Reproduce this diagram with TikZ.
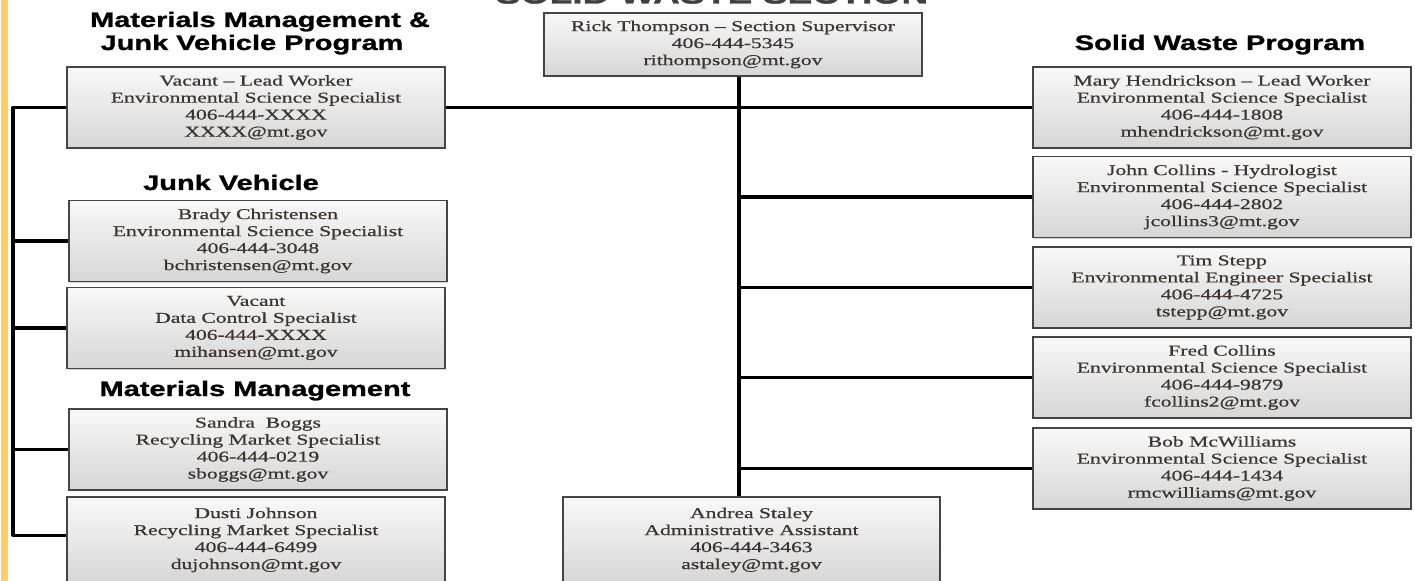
\documentclass[tikz,border=0pt]{standalone}
\usepackage{fontspec}
\setmainfont{Liberation Serif}
\newfontfamily\boxfont[FakeStretch=1.44,FakeBold=0.7]{Liberation Serif}
\newfontfamily\hdrfont[FakeStretch=1.38,FakeBold=1.2]{Liberation Sans}
\usetikzlibrary{shadows,calc}
\definecolor{orangebar}{HTML}{FFCC66}
\definecolor{boxtext}{HTML}{3A3530}
\definecolor{boxline}{HTML}{454545}
\begin{document}
\begin{tikzpicture}[x=0.75pt,y=-0.75pt,
  pbox/.style={draw=boxline, line width=1.2pt, top color=gray!5, bottom color=gray!32,
    minimum width=283.5pt, minimum height=60.75pt, inner sep=0pt, align=center,
    text=boxtext, font=\boxfont\fontsize{11.25pt}{12.75pt}\selectfont,
    drop shadow={shadow xshift=1pt, shadow yshift=-1pt, opacity=0.35}},
  hdr/.style={font=\hdrfont\bfseries\fontsize{15.75pt}{17pt}\selectfont, anchor=base, inner sep=0pt},
  ttl/.style={font=\hdrfont\bfseries\fontsize{20.25pt}{22pt}\selectfont, anchor=base, inner sep=0pt, text=black!75},
  conn/.style={line width=2.4pt, black}]
\useasboundingbox (0,0) rectangle (1415,581);
\clip (0,0) rectangle (1415,581);
\fill[white] (0,0) rectangle (1415,581);
\fill[orangebar] (1,0) rectangle (7.5,581);

% title (cut off at the top, as in the reference)
\node[ttl] (title) at (712,3.5) {SOLID WASTE SECTION};

% headings
\node[hdr] (hmm1) at (260,27) {Materials Management \&};
\node[hdr] (hmm2) at (252,50) {Junk Vehicle Program};
\node[hdr] (hsw) at (1220,50) {Solid Waste Program};
\node[hdr] (hjv) at (231,190) {Junk Vehicle};
\node[hdr] (hmat) at (255,396) {Materials Management};

% boxes
\node[pbox, minimum height=47.25pt] (rick) at (733,44.5) {Rick Thompson – Section Supervisor\\406-444-5345\\rithompson@mt.gov};

\node[pbox] (L1) at (256,107.5) {Vacant – Lead Worker\\Environmental Science Specialist\\406-444-XXXX\\XXXX@mt.gov};
\node[pbox] (L2) at (258,241) {Brady Christensen\\Environmental Science Specialist\\406-444-3048\\bchristensen@mt.gov};
\node[pbox] (L3) at (256,328) {Vacant\\Data Control Specialist\\406-444-XXXX\\mihansen@mt.gov};
\node[pbox] (L4) at (258,449.5) {Sandra~ Boggs\\Recycling Market Specialist\\406-444-0219\\sboggs@mt.gov};
\node[pbox, minimum height=64.5pt] (L5) at (256,540) {Dusti Johnson\\Recycling Market Specialist\\406-444-6499\\dujohnson@mt.gov};

\node[pbox, minimum width=282.75pt, minimum height=64.5pt] (andrea) at (751.5,540) {Andrea Staley\\Administrative Assistant\\406-444-3463\\astaley@mt.gov};

\node[pbox] (R1) at (1222,107.5) {Mary Hendrickson – Lead Worker\\Environmental Science Specialist\\406-444-1808\\mhendrickson@mt.gov};
\node[pbox] (R2) at (1222,197) {John Collins - Hydrologist\\Environmental Science Specialist\\406-444-2802\\jcollins3@mt.gov};
\node[pbox] (R3) at (1222,287.5) {Tim Stepp\\Environmental Engineer Specialist\\406-444-4725\\tstepp@mt.gov};
\node[pbox] (R4) at (1222,377.5) {Fred Collins\\Environmental Science Specialist\\406-444-9879\\fcollins2@mt.gov};
\node[pbox] (R5) at (1222,468.5) {Bob McWilliams\\Environmental Science Specialist\\406-444-1434\\rmcwilliams@mt.gov};

% connectors
\coordinate (lbus) at (13,0);
\coordinate (cbus) at (739,0);
\coordinate (l5in) at ($(L5.north west)+(0,39)$);
\draw[conn] (L1.east) -- (R1.west);
\draw[conn] (rick.south -| cbus) -- (andrea.north -| cbus);
\foreach \n in {R2,R3,R4,R5} \draw[conn] (\n.west) -- (\n.west -| cbus);
\draw[conn, line join=round] (L1.west) -| (lbus |- l5in) -- (l5in);
\foreach \n in {L2,L3,L4} \draw[conn] (\n.west) -- (\n.west -| lbus);
\end{tikzpicture}
\end{document}
